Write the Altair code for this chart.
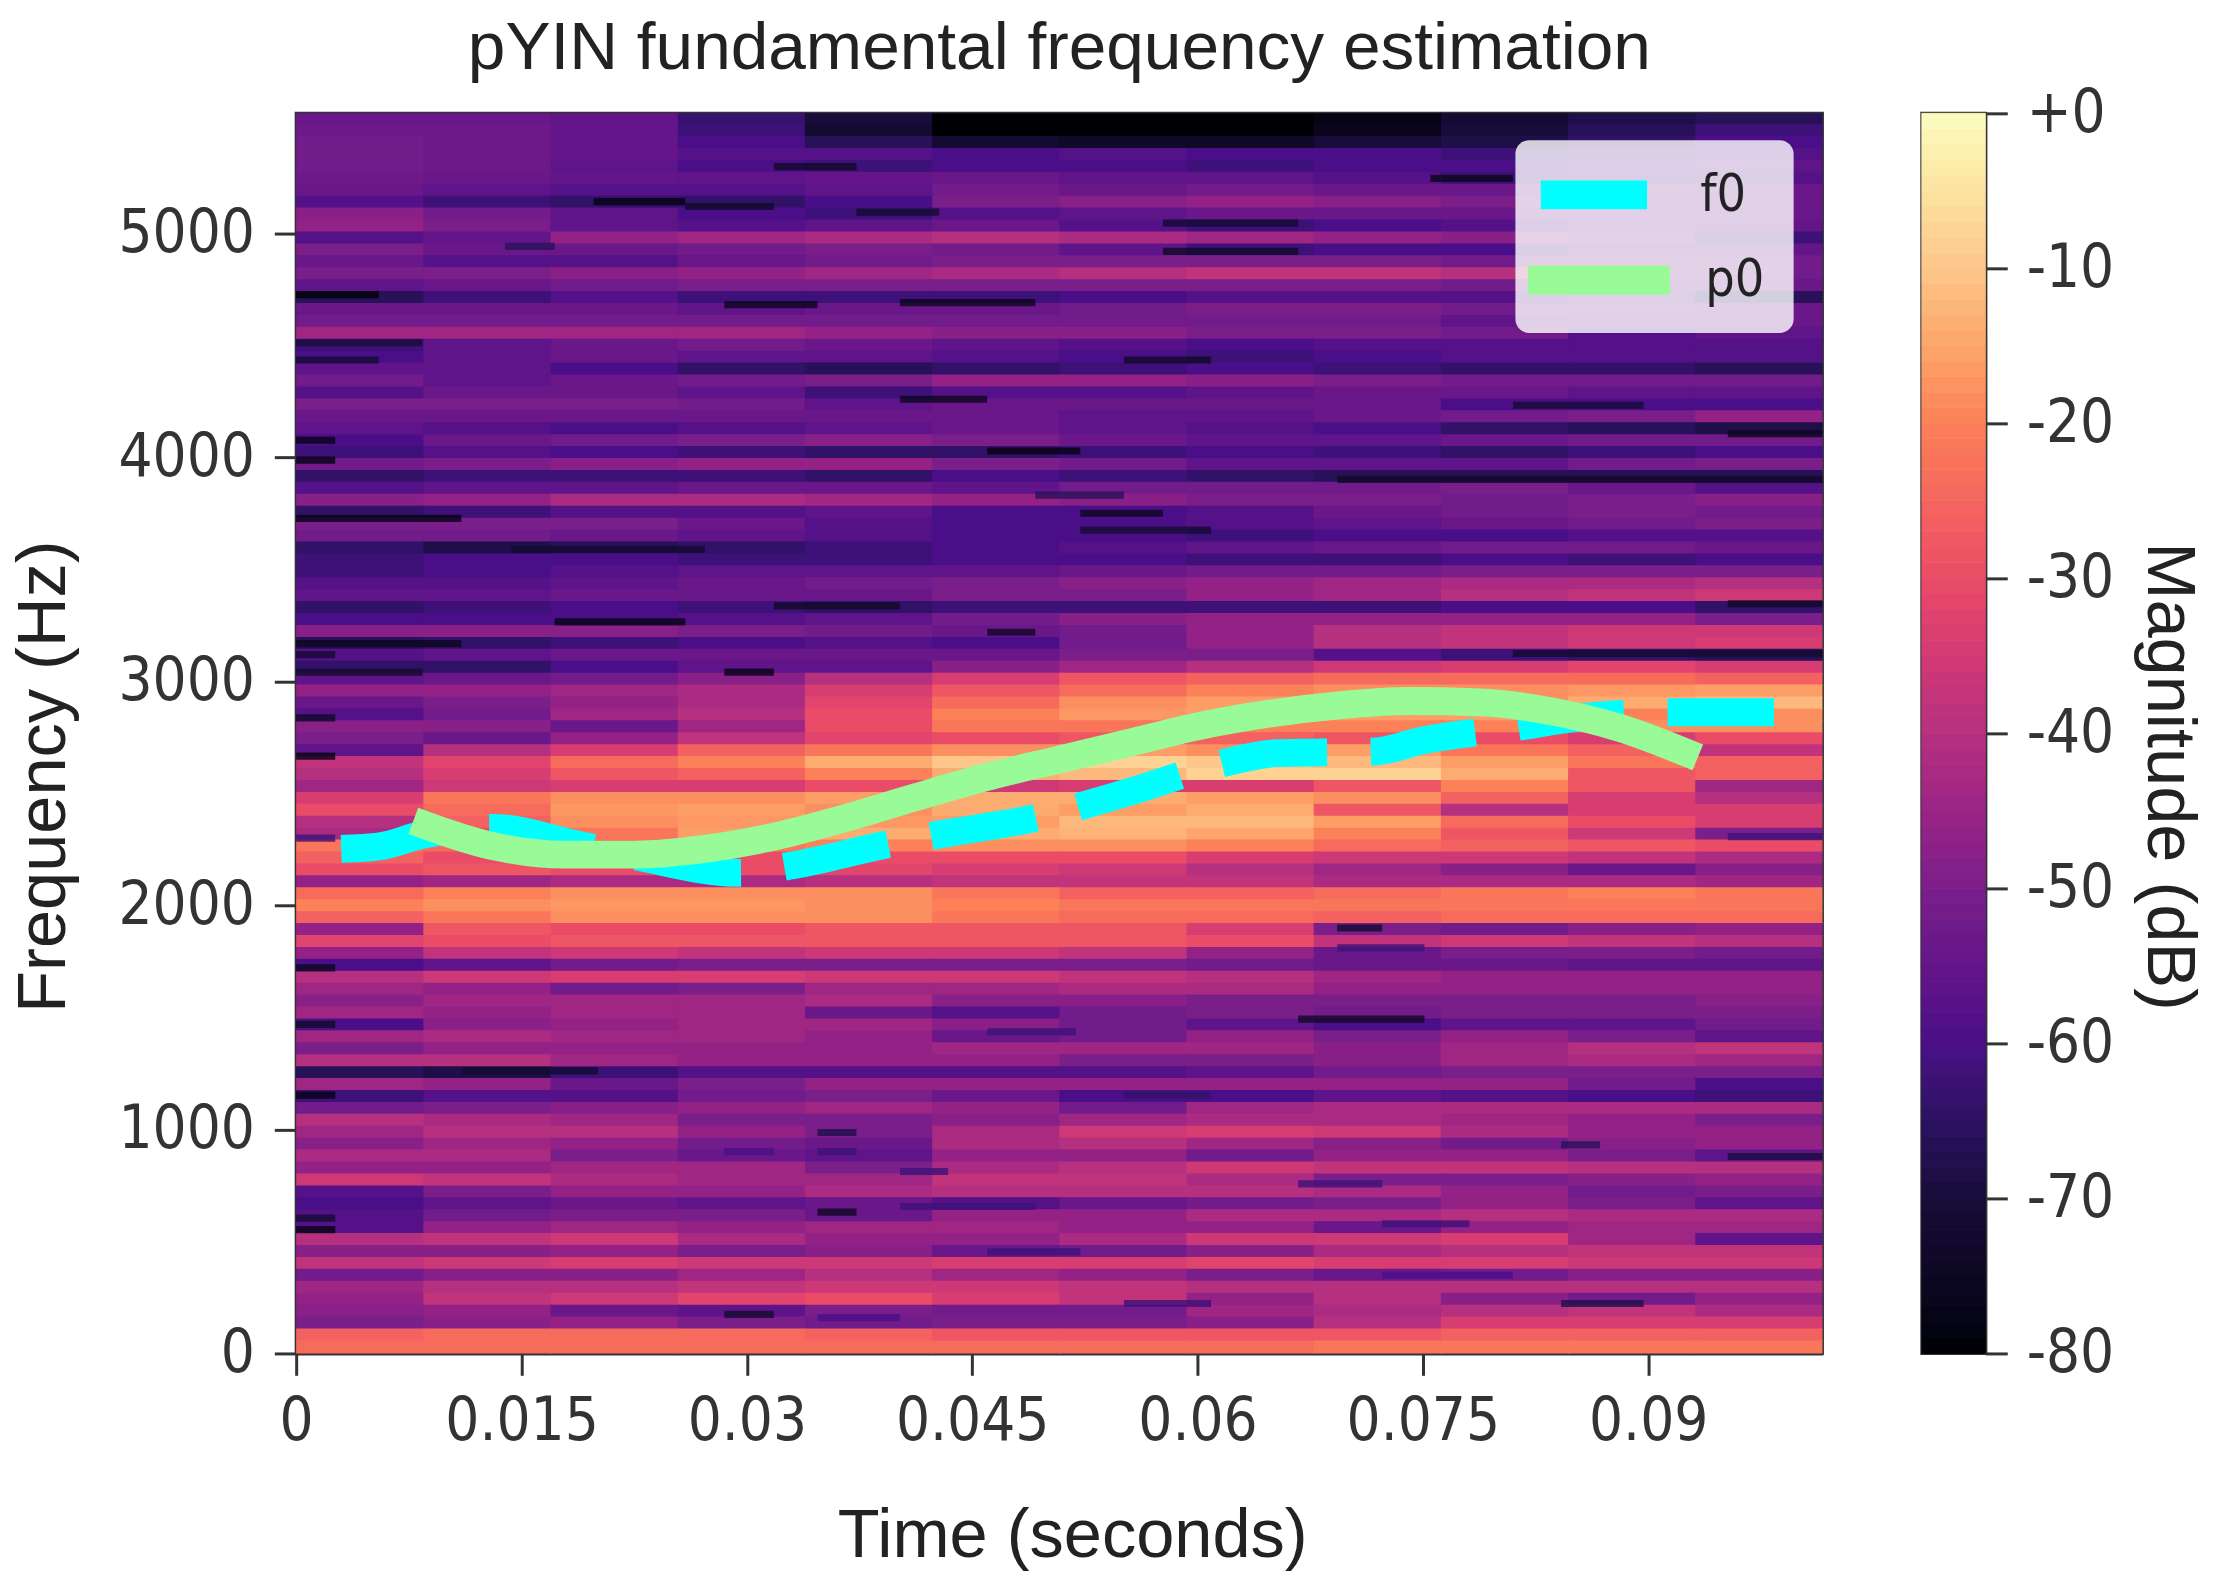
import altair as alt
import pandas as pd

MAX_T = 0.1016
MAX_F = 5535

x_ticks = [0, 0.015, 0.03, 0.045, 0.06, 0.075, 0.09]
y_ticks = [0, 1000, 2000, 3000, 4000, 5000]
cbar_ticks = [-80, -70, -60, -50, -40, -30, -20, -10, 0]
cbar_levels = list(range(-80, 0))

# colours, one per tick
ramp_colors = ['#000004', '#170c3a', '#4a0f88', '#7a1f8a', '#b5317f', '#ea4c67', '#fc8058', '#fec68a', '#fcfdbf']

# spectrogram in dB: one row per band from the top down,
# twelve time blocks from left to right
heat_rows = [
    [-54, -54, -55, -63, -70, -80, -80, -80, -78, -72, -68, -66],
    [-53, -53, -55, -62, -72, -80, -80, -80, -76, -70, -66, -62],
    [-52, -53, -55, -60, -66, -72, -74, -74, -70, -68, -64, -60],
    [-52, -53, -55, -58, -58, -60, -58, -60, -60, -62, -60, -58],
    [-52, -53, -56, -60, -62, -60, -60, -62, -60, -60, -58, -56],
    [-53, -54, -55, -56, -55, -54, -56, -56, -58, -62, -60, -58],
    [-54, -56, -58, -58, -56, -52, -54, -52, -54, -54, -52, -54],
    [-58, -62, -64, -64, -60, -50, -48, -46, -48, -50, -54, -54],
    [-48, -52, -56, -60, -62, -58, -56, -54, -54, -54, -54, -54],
    [-46, -50, -56, -58, -56, -54, -58, -62, -60, -58, -56, -55],
    [-58, -55, -46, -44, -42, -40, -42, -44, -46, -48, -52, -62],
    [-50, -54, -54, -52, -50, -52, -56, -62, -60, -60, -56, -55],
    [-54, -58, -58, -54, -52, -50, -50, -50, -50, -52, -52, -52],
    [-50, -50, -48, -46, -44, -42, -40, -38, -38, -40, -50, -52],
    [-56, -54, -52, -50, -50, -50, -50, -50, -50, -52, -54, -54],
    [-66, -62, -58, -62, -62, -62, -60, -58, -58, -58, -56, -66],
    [-54, -54, -54, -56, -54, -54, -52, -50, -50, -52, -52, -54],
    [-52, -52, -52, -52, -52, -52, -52, -52, -52, -56, -54, -54],
    [-44, -44, -44, -44, -46, -48, -48, -50, -50, -52, -58, -56],
    [-62, -56, -54, -52, -54, -56, -58, -60, -58, -58, -58, -58],
    [-60, -56, -54, -56, -56, -58, -60, -62, -60, -58, -58, -58],
    [-56, -56, -60, -64, -66, -64, -62, -60, -62, -64, -64, -66],
    [-52, -56, -54, -52, -50, -46, -46, -48, -50, -52, -52, -52],
    [-58, -54, -54, -56, -62, -58, -58, -56, -54, -54, -56, -56],
    [-50, -50, -50, -52, -56, -54, -54, -54, -54, -60, -60, -60],
    [-54, -54, -54, -54, -54, -54, -56, -56, -54, -52, -50, -46],
    [-56, -58, -60, -58, -56, -54, -56, -58, -60, -64, -66, -68],
    [-60, -54, -52, -50, -48, -50, -54, -56, -56, -54, -52, -52],
    [-62, -58, -60, -62, -64, -64, -62, -60, -62, -64, -62, -60],
    [-52, -50, -48, -46, -46, -50, -52, -56, -56, -56, -52, -50],
    [-64, -62, -62, -62, -64, -60, -62, -64, -66, -66, -66, -66],
    [-58, -56, -56, -54, -54, -56, -52, -52, -52, -50, -54, -58],
    [-48, -46, -42, -42, -44, -46, -48, -50, -50, -52, -50, -48],
    [-64, -62, -58, -58, -56, -60, -60, -58, -54, -52, -50, -52],
    [-50, -50, -50, -54, -58, -60, -60, -58, -56, -54, -52, -50],
    [-52, -52, -54, -56, -58, -60, -60, -62, -60, -60, -58, -58],
    [-64, -68, -66, -64, -62, -60, -58, -56, -54, -52, -52, -54],
    [-62, -60, -60, -62, -62, -60, -60, -62, -62, -60, -62, -60],
    [-62, -60, -58, -56, -56, -56, -54, -52, -52, -50, -50, -50],
    [-58, -58, -56, -54, -52, -50, -48, -46, -44, -42, -42, -40],
    [-56, -56, -54, -54, -54, -50, -50, -46, -44, -40, -38, -36],
    [-64, -62, -60, -62, -64, -62, -62, -62, -62, -60, -60, -64],
    [-60, -60, -60, -58, -56, -52, -48, -46, -46, -46, -46, -50],
    [-48, -48, -48, -50, -52, -54, -52, -46, -40, -38, -36, -36],
    [-66, -64, -62, -60, -58, -60, -52, -46, -40, -38, -36, -34],
    [-58, -56, -54, -54, -54, -54, -50, -50, -58, -62, -64, -66],
    [-64, -64, -60, -56, -56, -48, -44, -40, -36, -34, -32, -34],
    [-56, -54, -52, -48, -40, -34, -28, -26, -24, -24, -24, -26],
    [-46, -46, -44, -42, -34, -28, -24, -20, -18, -18, -17, -16],
    [-54, -50, -46, -42, -32, -24, -18, -16, -15, -18, -14, -12],
    [-58, -52, -44, -40, -30, -20, -17, -16, -16, -16, -20, -18],
    [-48, -48, -54, -44, -30, -22, -22, -20, -20, -20, -18, -18],
    [-50, -54, -46, -38, -32, -30, -28, -26, -28, -30, -34, -30],
    [-56, -40, -34, -26, -22, -18, -16, -18, -16, -22, -26, -38],
    [-38, -32, -24, -20, -14, -10, -8, -10, -12, -16, -22, -26],
    [-40, -34, -28, -26, -20, -14, -12, -8, -8, -14, -28, -26],
    [-44, -36, -34, -34, -30, -36, -34, -34, -28, -20, -28, -44],
    [-34, -22, -18, -18, -16, -14, -14, -16, -18, -26, -34, -40],
    [-30, -24, -17, -16, -18, -14, -16, -14, -28, -40, -34, -34],
    [-40, -26, -18, -17, -17, -16, -12, -12, -16, -24, -30, -34],
    [-42, -30, -22, -16, -14, -14, -13, -15, -20, -28, -36, -50],
    [-22, -24, -24, -22, -20, -18, -18, -20, -24, -26, -28, -30],
    [-26, -30, -30, -30, -30, -30, -30, -34, -36, -36, -38, -42],
    [-30, -28, -30, -30, -32, -34, -36, -40, -44, -48, -54, -48],
    [-46, -44, -42, -42, -40, -38, -38, -38, -42, -42, -42, -44],
    [-24, -20, -18, -18, -18, -22, -26, -26, -24, -22, -20, -22],
    [-20, -18, -17, -17, -18, -20, -22, -22, -22, -22, -22, -22],
    [-26, -22, -18, -18, -18, -22, -24, -24, -26, -24, -24, -24],
    [-46, -28, -30, -30, -28, -28, -28, -34, -50, -52, -48, -46],
    [-32, -30, -28, -28, -28, -28, -28, -30, -38, -36, -38, -40],
    [-46, -38, -36, -38, -36, -36, -38, -46, -54, -50, -50, -52],
    [-60, -56, -52, -50, -50, -50, -50, -52, -54, -54, -56, -56],
    [-40, -36, -34, -34, -36, -36, -38, -40, -44, -46, -46, -46],
    [-44, -46, -52, -50, -44, -44, -42, -42, -46, -46, -46, -46],
    [-48, -44, -44, -44, -42, -48, -48, -50, -50, -50, -50, -48],
    [-44, -46, -44, -44, -54, -58, -52, -50, -52, -50, -50, -50],
    [-60, -48, -46, -44, -44, -48, -52, -56, -60, -56, -56, -52],
    [-44, -42, -44, -44, -46, -54, -52, -46, -50, -46, -50, -56],
    [-50, -46, -46, -46, -46, -44, -44, -44, -48, -44, -40, -38],
    [-40, -40, -44, -46, -46, -46, -50, -50, -48, -44, -42, -44],
    [-66, -68, -62, -58, -58, -58, -58, -56, -52, -50, -50, -50],
    [-44, -46, -54, -50, -46, -46, -46, -46, -46, -46, -52, -60],
    [-62, -58, -58, -52, -50, -54, -60, -60, -56, -58, -60, -62],
    [-52, -50, -48, -46, -44, -46, -52, -44, -42, -42, -42, -42],
    [-40, -42, -44, -50, -50, -48, -44, -42, -42, -44, -46, -50],
    [-44, -40, -40, -46, -50, -42, -36, -34, -36, -42, -46, -46],
    [-48, -44, -46, -52, -54, -42, -40, -44, -48, -52, -48, -46],
    [-42, -42, -50, -54, -56, -46, -46, -52, -46, -46, -50, -56],
    [-46, -46, -44, -44, -50, -42, -40, -36, -38, -38, -40, -40],
    [-36, -38, -42, -44, -44, -38, -38, -42, -50, -50, -48, -46],
    [-58, -50, -46, -46, -42, -40, -40, -40, -42, -46, -52, -50],
    [-60, -56, -54, -56, -54, -58, -54, -52, -50, -46, -50, -56],
    [-58, -52, -50, -50, -54, -46, -46, -42, -42, -40, -42, -42],
    [-58, -46, -44, -46, -44, -44, -46, -46, -54, -46, -44, -44],
    [-40, -38, -36, -42, -46, -46, -42, -36, -36, -34, -44, -56],
    [-48, -48, -46, -50, -48, -54, -52, -48, -42, -40, -38, -38],
    [-38, -36, -34, -36, -36, -34, -34, -32, -34, -34, -36, -36],
    [-52, -48, -48, -44, -40, -44, -46, -50, -54, -52, -48, -48],
    [-44, -40, -40, -38, -36, -36, -38, -40, -40, -40, -40, -40],
    [-46, -38, -36, -32, -30, -34, -38, -46, -40, -48, -52, -46],
    [-48, -46, -54, -56, -50, -52, -52, -44, -42, -40, -38, -42],
    [-50, -48, -46, -50, -52, -50, -50, -48, -40, -34, -34, -34],
    [-26, -24, -24, -24, -26, -28, -28, -28, -28, -26, -26, -26],
    [-24, -24, -24, -24, -24, -24, -24, -24, -22, -22, -22, -22],
]

# thin dark streaks that do not fill a whole block
notch_freq = [5297, 5245, 5141, 5119, 5094, 5045, 4941, 4919, 4726, 4681, 4690, 4511,
              4434, 4434, 4259, 4232, 4076, 4028, 4105, 3987, 3901, 3831, 3750, 3727,
              3675, 3589, 3337, 3346, 3265, 3219, 3168, 3124, 3119, 3041, 3041, 2837,
              2666, 2300, 2307, 1899, 1810, 1721, 1492, 1469, 1435, 1261, 1153, 1153,
              986, 901, 901, 931, 879, 812, 757, 656, 631, 604, 553, 579, 453, 349,
              223, 223, 174, 160]
notch_start = [.0318, .0755, .0198, .0259, .0373, .0577, .0139, .0577, 0, .0285, .0402, 0,
               .0551, 0, .0402, .081, 0, .046, .0953, 0, .0693, .0492, .0522, 0,
               .0522, .0143, .0318, .0953, .0172, .046, 0, .081, 0, .0285, 0, 0,
               0, 0, .0953, .0693, .0693, 0, .0667, 0, .046, .011, 0, .0551,
               .0347, .0285, .0347, .0842, .0953, .0402, .0667, .0402, .0347, 0, 0, .0723, .046, .0723,
               .0551, .0842, .0285, .0347]
notch_end = [.0373, .081, .0259, .0318, .0428, .0667, .0172, .0667, .0055, .0347, .0492, .0084,
             .0609, .0055, .046, .0897, .0026, .0522, .1016, .0026, .1016, .0551, .0577, .011,
             .0609, .0272, .0402, .1016, .0259, .0492, .011, .1016, .0026, .0318, .0084, .0026,
             .0026, .0026, .1016, .0723, .0751, .0026, .0751, .0026, .0519, .0201, .0026, .0609,
             .0373, .0318, .0373, .0868, .1016, .0434, .0723, .0492, .0373, .0026, .0026, .0781, .0522, .081,
             .0609, .0897, .0318, .0402]
notch_db = [-74, -76, -78, -74, -72, -72, -66, -74, -80, -76, -76, -70,
            -74, -72, -76, -72, -78, -78, -76, -78, -74, -66, -76, -78,
            -72, -72, -74, -74, -78, -74, -76, -72, -72, -78, -72, -74,
            -78, -62, -62, -72, -62, -76, -74, -74, -62, -72, -78, -64,
            -68, -60, -62, -66, -70, -62, -62, -62, -74, -72, -78, -62, -62, -60,
            -62, -68, -72, -60]

f0_time = [0.0030, 0.0056, 0.0084, 0.0131, 0.0188, 0.0225, 0.0295, 0.0328, 0.0392, 0.0427,
           0.0492, 0.0553, 0.0614, 0.0652, 0.0717, 0.0750, 0.0816, 0.0844, 0.0916, 0.0984]
f0_freq = [2252, 2264, 2315, 2346, 2270, 2220, 2145, 2176, 2270, 2315,
           2390, 2503, 2629, 2679, 2686, 2736, 2799, 2830, 2862, 2862]

p0_time = [0.0078, 0.0131, 0.0178, 0.0225, 0.0272, 0.0319, 0.0366, 0.0413, 0.0459, 0.0506,
           0.0553, 0.0600, 0.0647, 0.0694, 0.0741, 0.0788, 0.0834, 0.0881, 0.0933]
p0_freq = [2377, 2264, 2226, 2226, 2252, 2308, 2390, 2484, 2572, 2648,
           2723, 2799, 2855, 2893, 2912, 2906, 2868, 2792, 2660]

# long-form tables for the marks
n_rows = len(heat_rows)
n_cols = len(heat_rows[0])
cells = []
for r, row in enumerate(heat_rows):
    for c, db in enumerate(row):
        # each cell runs a hair into its neighbour so no seams show
        cells.append({
            't0': c * MAX_T / n_cols,
            't1': min((c + 1) * MAX_T / n_cols + 0.00008, MAX_T),
            'f0': MAX_F - (r + 1) * MAX_F / n_rows,
            'f1': min(MAX_F - r * MAX_F / n_rows + 5, MAX_F),
            'db': db,
        })
heat_df = pd.DataFrame(cells)

notch_df = pd.DataFrame({'f': notch_freq, 't0': notch_start, 't1': notch_end, 'db': notch_db})
notch_df['f0'] = notch_df['f'] - 16
notch_df['f1'] = notch_df['f'] + 16

f0_df = pd.DataFrame({'time': f0_time, 'freq': f0_freq, 'series': 'f0'})
p0_df = pd.DataFrame({'time': p0_time, 'freq': p0_freq, 'series': 'p0'})

cbar_df = pd.DataFrame({'low': cbar_levels})
cbar_df['high'] = cbar_df['low'] + 1
cbar_df['mid'] = cbar_df['low'] + 0.5

TICK_FONT = 'DejaVu Sans Condensed, DejaVu Sans'
TEXT_FONT = 'Liberation Sans'
INK = '#333333'
magma = alt.Scale(domain=cbar_ticks, range=ramp_colors)

x_scale = alt.Scale(domain=[0, MAX_T], nice=False, zero=False)
y_scale = alt.Scale(domain=[0, MAX_F], nice=False, zero=False)

x_axis = alt.Axis(values=x_ticks, labelExpr="'' + datum.value", title='Time (seconds)', grid=False,
                  tickSize=22, tickWidth=3, tickColor=INK, domainColor=INK, domainWidth=3,
                  labelFont=TICK_FONT, labelFontSize=60, labelColor=INK, labelPadding=18,
                  labelFlush=False, labelOverlap=False,
                  titleFont=TEXT_FONT, titleFontSize=69, titleFontWeight='normal',
                  titleColor='#222222', titlePadding=50, titleX=781)
y_axis = alt.Axis(values=y_ticks, format='d', title='Frequency (Hz)', grid=False,
                  tickSize=22, tickWidth=3, tickColor=INK, domainColor=INK, domainWidth=3,
                  labelFont=TICK_FONT, labelFontSize=60, labelColor=INK, labelPadding=20,
                  labelOverlap=False,
                  titleFont=TEXT_FONT, titleFontSize=69, titleFontWeight='normal',
                  titleColor='#222222', titlePadding=40, titleY=667)

heat = alt.Chart(heat_df).mark_rect().encode(
    x=alt.X('t0:Q', scale=x_scale, axis=x_axis),
    x2='t1:Q',
    y=alt.Y('f0:Q', scale=y_scale, axis=y_axis),
    y2='f1:Q',
    color=alt.Color('db:Q', scale=magma, legend=None),
)
notches = alt.Chart(notch_df).mark_rect(opacity=0.8).encode(
    x=alt.X('t0:Q', scale=x_scale, axis=x_axis),
    x2='t1:Q',
    y=alt.Y('f0:Q', scale=y_scale, axis=y_axis),
    y2='f1:Q',
    color=alt.Color('db:Q', scale=magma, legend=None),
)

# legend backing plate, the two line legends sit on top of it
legend_box = alt.Chart(pd.DataFrame({'box': [1]})).mark_rect(
    fill='rgba(255,255,255,0.8)', cornerRadius=14,
).encode(x=alt.value(1227), x2=alt.value(1507), y=alt.value(27), y2=alt.value(221))

f0_line = alt.Chart(f0_df).mark_line(strokeWidth=28, strokeDash=[107, 44], interpolate='monotone').encode(
    x=alt.X('time:Q', scale=x_scale, axis=x_axis),
    y=alt.Y('freq:Q', scale=y_scale, axis=y_axis),
    stroke=alt.Stroke('series:N', scale=alt.Scale(domain=['f0'], range=['#00ffff']), legend=alt.Legend(
        title=None, orient='none', legendX=1238, legendY=57, padding=0,
        symbolType='stroke', symbolSize=11449, symbolStrokeWidth=29,
        labelFont=TICK_FONT, labelFontSize=52, labelColor='#222222', labelOffset=39,
        clipHeight=50, labelLimit=0,
    )),
)
p0_line = alt.Chart(p0_df).mark_line(strokeWidth=28, interpolate='monotone').encode(
    x=alt.X('time:Q', scale=x_scale, axis=x_axis),
    y=alt.Y('freq:Q', scale=y_scale, axis=y_axis),
    stroke=alt.Stroke('series:N', scale=alt.Scale(domain=['p0'], range=['#98fb98']), legend=alt.Legend(
        title=None, orient='none', legendX=1225, legendY=143, padding=0,
        symbolType='stroke', symbolSize=20449, symbolStrokeWidth=29,
        labelFont=TICK_FONT, labelFontSize=52, labelColor='#222222', labelOffset=21,
        clipHeight=50, labelLimit=0,
    )),
)

main = alt.layer(heat, notches, legend_box, f0_line, p0_line).resolve_scale(stroke='independent').properties(
    width=1536, height=1248,
    title=alt.TitleParams('pYIN fundamental frequency estimation', font=TEXT_FONT, fontSize=68, dy=-6,
                          fontWeight='normal', color='#222222', anchor='middle', offset=25),
)

colorbar = alt.Chart(cbar_df).mark_rect(strokeWidth=0.8).encode(
    x=alt.value(0),
    x2=alt.value(64),
    y=alt.Y('low:Q', scale=alt.Scale(domain=[-80, 0], nice=False, zero=False),
            axis=alt.Axis(orient='right', values=cbar_ticks, title='Magnitude (dB)', grid=False,
                          labelExpr="datum.value == 0 ? '+0' : '' + datum.value",
                          tickSize=22, tickWidth=3, tickColor=INK, domainColor=INK, domainWidth=3,
                          labelFont=TICK_FONT, labelFontSize=60, labelColor=INK, labelPadding=19,
                          labelOverlap=False,
                          titleFont=TEXT_FONT, titleFontSize=69, titleFontWeight='normal',
                          titleColor='#222222', titlePadding=20, titleY=667)),
    y2='high:Q',
    color=alt.Color('mid:Q', scale=magma, legend=None),
    stroke=alt.Stroke('mid:Q', scale=magma, legend=None),
).properties(width=64, height=1248)

chart = alt.hconcat(main, colorbar, spacing=88).properties(
    padding={'left': 0, 'top': 0, 'right': 4, 'bottom': 4},
    background='white',
).configure_view(stroke=INK, strokeWidth=3)

chart.save("out.html", embed_options={"renderer": "svg", "actions": False})
